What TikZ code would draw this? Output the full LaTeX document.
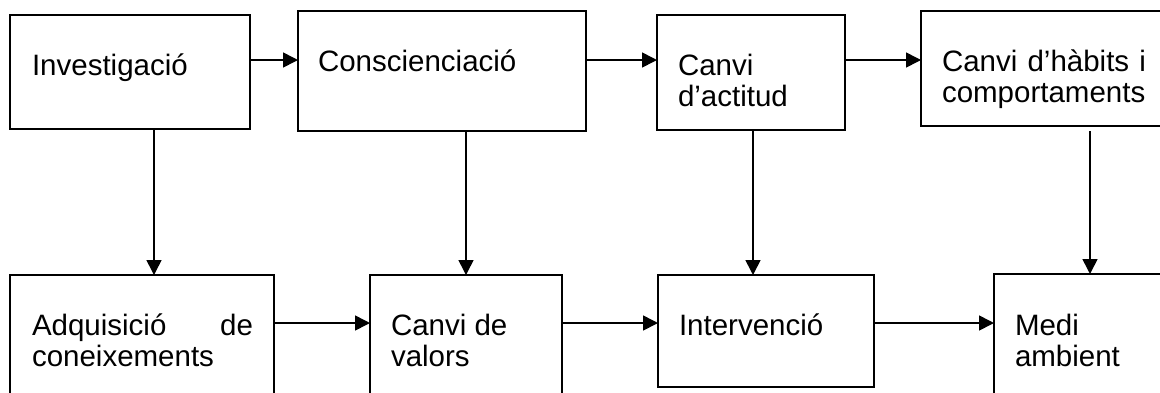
\documentclass[tikz,border=0pt]{standalone}
\usepackage{fontspec}
\setmainfont{Liberation Sans}
\usetikzlibrary{arrows.meta}
\begin{document}
\begin{tikzpicture}[x=1pt,y=-1pt,
  stagebox/.style={draw, line width=1.6pt, rectangle, inner sep=0pt, outer sep=0pt, anchor=north west},
  lbl/.style={anchor=base west, inner sep=0pt, outer sep=0pt, font=\fontsize{29.5}{31}\selectfont},
  arr/.style={line width=1.6pt, -{Triangle[length=15pt,width=15pt]}}]
\useasboundingbox (0,0) rectangle (1160,392);
\clip (0,0) rectangle (1160,392);
\fill[white] (0,0) rectangle (1160,392);

% row and column guides for the connectors
\coordinate (toprow) at (0,60);
\coordinate (botrow) at (0,323);
\coordinate (col1) at (154,0);
\coordinate (col2) at (466,0);
\coordinate (col3) at (753,0);
\coordinate (col4) at (1090,0);

% top row
\node[stagebox, minimum width=240pt, minimum height=114pt] (inv) at (10,15) {};
\node[stagebox, minimum width=288pt, minimum height=120pt] (con) at (298,11) {};
\node[stagebox, minimum width=188pt, minimum height=115pt] (act) at (657,15) {};
\node[stagebox, minimum width=260pt, minimum height=115pt] (hab) at (921,11) {};

% bottom row
\node[stagebox, minimum width=264pt, minimum height=130pt] (adq) at (10,275) {};
\node[stagebox, minimum width=192pt, minimum height=130pt] (val) at (370,275) {};
\node[stagebox, minimum width=216pt, minimum height=112pt] (int) at (658,275) {};
\node[stagebox, minimum width=200pt, minimum height=130pt] (med) at (994,274) {};

% labels
\node[lbl] (tinv) at (32,75) {Investigació};
\node[lbl] (tcon) at (318,71) {Conscienciació};
\node[lbl] (tact) at (678,75) {\parbox[t]{160pt}{Canvi\\d’actitud}};
\node[lbl] (thab) at (942,71) {\parbox[t]{204pt}{Canvi\hfill d’hàbits\hfill i\\comportaments}};
\node[lbl] (tadq) at (32,335) {\parbox[t]{221pt}{Adquisició\hfill de\\coneixements}};
\node[lbl] (tval) at (391,335) {\parbox[t]{160pt}{Canvi de\\valors}};
\node[lbl] (tint) at (679,335) {Intervenció};
\node[lbl] (tmed) at (1015,335) {\parbox[t]{160pt}{Medi\\ambient}};

% horizontal connectors
\draw[arr] (inv.east |- toprow) -- (con.west |- toprow);
\draw[arr] (con.east |- toprow) -- (act.west |- toprow);
\draw[arr] (act.east |- toprow) -- (hab.west |- toprow);
\draw[arr] (adq.east |- botrow) -- (val.west |- botrow);
\draw[arr] (val.east |- botrow) -- (int.west |- botrow);
\draw[arr] (int.east |- botrow) -- (med.west |- botrow);

% vertical connectors
\draw[arr] (col1 |- inv.south) -- (col1 |- adq.north);
\draw[arr] (col2 |- con.south) -- (col2 |- val.north);
\draw[arr] (col3 |- act.south) -- (col3 |- int.north);
\draw[arr] ([yshift=-5pt]col4 |- hab.south) -- (col4 |- med.north);
\end{tikzpicture}
\end{document}
